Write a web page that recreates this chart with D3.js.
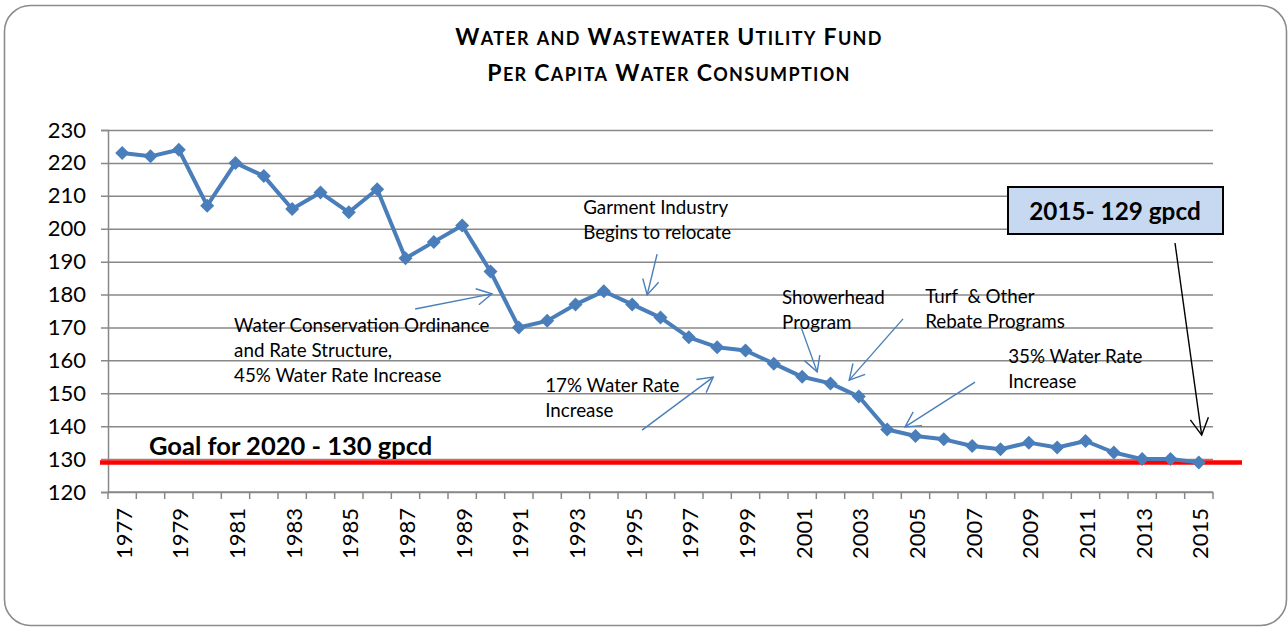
<!DOCTYPE html>
<html>
<head>
<meta charset="utf-8">
<script src="https://cdn.jsdelivr.net/npm/d3@7"></script>
<style>
  body { margin: 0; background: #fff; }
  svg text { font-family: Lato, "Open Sans", sans-serif; }
</style>
</head>
<body>
<svg id="chart" width="1288" height="627"></svg>
<script>
// data
var years = d3.range(1977, 2016);
var gpcd = [223, 222, 224, 207, 220, 216, 206, 211, 205, 212,
            191, 196, 201, 187, 170, 172, 177, 181, 177, 173,
            167, 164, 163, 159, 155, 153, 149, 139, 137, 136,
            134, 133, 135, 133.5, 135.5, 132, 130, 130, 129];
var yTicks = d3.range(120, 231, 10);
var xTickLabels = years.filter(function(y){ return (y - 1977) % 2 === 0; });
var goal = 129;
var titleLines = ["Water and Wastewater Utility Fund", "Per Capita Water Consumption"];
// notes: text lines, where the text goes, arrow from year/value to year/value
var notes = [
  { lines: ["Water Conservation Ordinance", "and Rate Structure,", "45% Water Rate Increase"], at: [1980.95, 168.6], from: [1987.34, 175.6], to: [1990.05, 180.2] },
  { lines: ["Garment Industry", "Begins to relocate"], at: [1993.27, 204.5], from: [1995.88, 192.3], to: [1995.53, 179.9] },
  { lines: ["17% Water Rate", "Increase"], at: [1991.93, 150.4], from: [1995.35, 138.8], to: [1997.86, 154.9] },
  { lines: ["Showerhead", "Program"], at: [2000.29, 177.1], from: [2000.96, 170.1], to: [2001.53, 156.5] },
  { lines: ["Turf  & Other", "Rebate Programs"], at: [2005.34, 177.4], from: [2004.56, 172.6], to: [2002.66, 154.0] },
  { lines: ["35% Water Rate", "Increase"], at: [2008.27, 159.2], from: [2007.1, 153.4], to: [2004.63, 139.8] }
];

var svg = d3.select("#chart");
var mLeft = 108, mRight = 1213, mTop = 130, mBottom = 492;

// outer frame
svg.append("rect")
  .attr("x", 4.5).attr("y", 5.5)
  .attr("width", 1282).attr("height", 620)
  .attr("rx", 26).attr("ry", 26)
  .attr("fill", "#fff")
  .attr("stroke", "#8c8c8c")
  .attr("stroke-width", 1.6);

var x = d3.scaleBand().domain(years).range([mLeft, mRight]);
var y = d3.scaleLinear().domain([120, 230]).range([mBottom, mTop]);
var xc = function(yr){ return mLeft + (yr - 1977 + 0.5) * x.step(); }; // continuous year position

// title, hand-made small caps (capitals big, the rest smaller)
svg.append("g").selectAll("text")
  .data(titleLines).enter().append("text")
  .attr("x", 669).attr("y", function(d, i){ return 45 + i * 36; })
  .attr("text-anchor", "middle")
  .attr("font-weight", "bold")
  .attr("letter-spacing", 1.3)
  .each(function(d){
    var t = d3.select(this);
    d.split("").forEach(function(c){
      var big = c !== c.toLowerCase() || c === " ";
      t.append("tspan").attr("font-size", big ? 23 : 18).text(c.toUpperCase());
    });
  });

// gridlines + y axis
var yAxis = svg.append("g")
  .attr("transform", "translate(" + mLeft + ",0)")
  .call(d3.axisLeft(y).tickValues(yTicks).tickSize(7).tickPadding(15));
yAxis.select(".domain").attr("stroke", "#888").attr("stroke-width", 1.5);
yAxis.selectAll(".tick line").attr("stroke", "#888").attr("stroke-width", 1.5)
  .attr("x2", mRight - mLeft).attr("x1", -7);
yAxis.selectAll(".tick text").attr("font-size", 22).attr("fill", "#000")
  .attr("font-family", "'Liberation Sans', Arial, sans-serif");

// x axis with category boundary ticks
var xAxis = svg.append("g")
  .attr("transform", "translate(0," + mBottom + ")");
xAxis.append("line").attr("x1", mLeft).attr("x2", mRight)
  .attr("stroke", "#888").attr("stroke-width", 1.5);
xAxis.selectAll("line.b")
  .data(d3.range(0, years.length + 1)).enter().append("line")
  .attr("x1", function(i){ return mLeft + i * x.step(); })
  .attr("x2", function(i){ return mLeft + i * x.step(); })
  .attr("y1", 0).attr("y2", 7)
  .attr("stroke", "#888").attr("stroke-width", 1.5);
xAxis.selectAll("text")
  .data(xTickLabels).enter().append("text")
  .attr("transform", function(d){ return "translate(" + (x(d) + x.bandwidth() / 2 + 9.5) + ",16) rotate(-90)"; })
  .attr("text-anchor", "end")
  .attr("font-size", 22)
  .attr("font-family", "'Liberation Sans', Arial, sans-serif")
  .text(function(d){ return d; });

// goal line
svg.append("line")
  .attr("x1", 100).attr("x2", 1242)
  .attr("y1", y(goal)).attr("y2", y(goal))
  .attr("stroke", "#ff0000").attr("stroke-width", 4.5);
svg.append("text")
  .attr("x", 149).attr("y", 455)
  .attr("font-weight", "bold").attr("font-size", 25.5)
  .text("Goal for " + 2020 + " - 130 gpcd");

// series
var line = d3.line()
  .x(function(d, i){ return x(years[i]) + x.bandwidth() / 2; })
  .y(function(d){ return y(d); });
svg.append("path")
  .datum(gpcd)
  .attr("d", line)
  .attr("fill", "none")
  .attr("stroke", "#4a7ebb")
  .attr("stroke-width", 4)
  .attr("stroke-linejoin", "round");
svg.append("g").selectAll("path")
  .data(gpcd).enter().append("path")
  .attr("d", d3.symbol().type(d3.symbolDiamond2).size(125))
  .attr("transform", function(d, i){ return "translate(" + (x(years[i]) + x.bandwidth() / 2) + "," + y(d) + ")"; })
  .attr("fill", "#4a7ebb");

// arrows
function arrow(x1, y1, x2, y2, color, w, head) {
  var a = Math.atan2(y2 - y1, x2 - x1), s = 0.5;
  svg.append("line").attr("x1", x1).attr("y1", y1).attr("x2", x2).attr("y2", y2)
    .attr("stroke", color).attr("stroke-width", w);
  svg.append("path")
    .attr("d", "M" + (x2 - head * Math.cos(a - s)) + "," + (y2 - head * Math.sin(a - s)) +
               "L" + x2 + "," + y2 +
               "L" + (x2 - head * Math.cos(a + s)) + "," + (y2 - head * Math.sin(a + s)))
    .attr("fill", "none").attr("stroke", color).attr("stroke-width", w);
}

notes.forEach(function(n){
  var g = svg.append("text")
    .attr("x", xc(n.at[0])).attr("y", y(n.at[1]))
    .attr("font-size", 18.8).attr("fill", "#000")
    .style("white-space", "pre");
  n.lines.forEach(function(l, i){
    g.append("tspan").attr("x", xc(n.at[0])).attr("dy", i === 0 ? 0 : 25).text(l);
  });
  arrow(xc(n.from[0]), y(n.from[1]), xc(n.to[0]), y(n.to[1]), "#4a7ebb", 1.4, 17);
});

// 2015 callout box
svg.append("rect")
  .attr("x", 1008).attr("y", 187)
  .attr("width", 215).attr("height", 47)
  .attr("fill", "#c6d9f1")
  .attr("stroke", "#000").attr("stroke-width", 2);
svg.append("text")
  .attr("x", 1115).attr("y", 220)
  .attr("text-anchor", "middle")
  .attr("font-weight", "bold").attr("font-size", 24.3)
  .text(years[years.length - 1] + "- " + gpcd[gpcd.length - 1] + " gpcd");
arrow(1175, 243, xc(2015.1), y(137.3), "#000", 1.4, 19);
</script>
</body>
</html>
